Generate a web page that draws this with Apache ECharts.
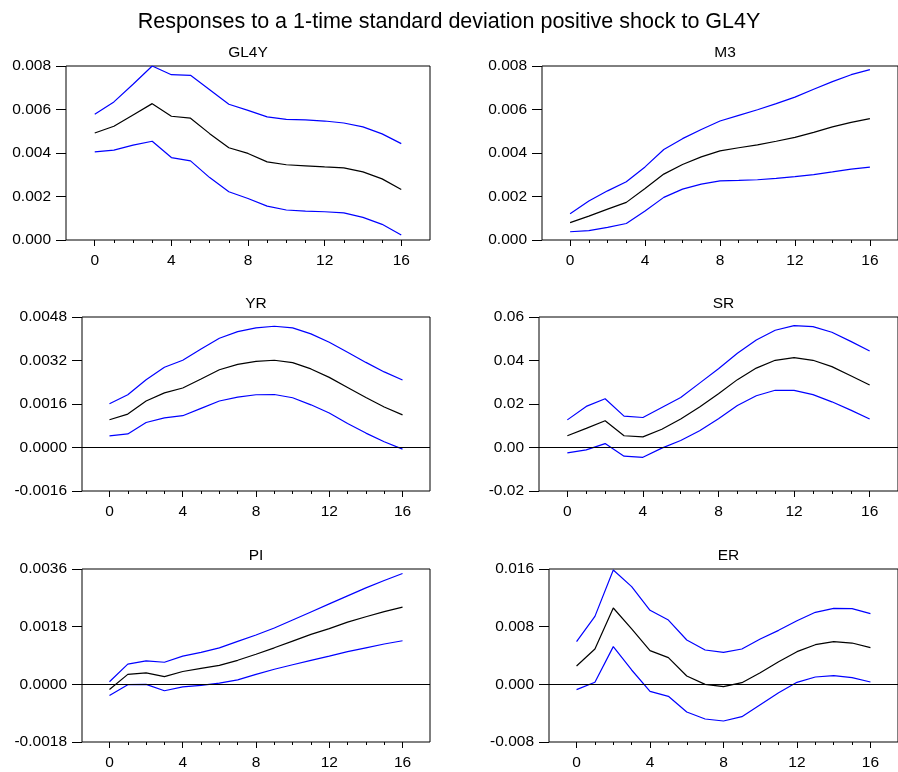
<!DOCTYPE html>
<html>
<head>
<meta charset="utf-8">
<script src="https://cdn.jsdelivr.net/npm/echarts@6/dist/echarts.min.js"></script>
<style>
  html, body { margin: 0; padding: 0; background: #fff; }
  #chart { width: 898px; height: 772px; }
</style>
</head>
<body>
<div id="chart"></div>
<script>
// horizon (periods after the shock)
let steps = [0, 1, 2, 3, 4, 5, 6, 7, 8, 9, 10, 11, 12, 13, 14, 15, 16];
let majorSteps = [0, 4, 8, 12, 16];

// GL4Y
let gl4yMid = [0.00492, 0.00523, 0.00575, 0.00627, 0.00569, 0.00560, 0.00489, 0.00424, 0.00398, 0.00359, 0.00346, 0.00341, 0.00336, 0.00332, 0.00313, 0.00281, 0.00232];
let gl4yUpper = [0.00578, 0.00635, 0.00716, 0.00800, 0.00760, 0.00757, 0.00691, 0.00624, 0.00596, 0.00566, 0.00555, 0.00552, 0.00547, 0.00538, 0.00520, 0.00488, 0.00443];
let gl4yLower = [0.00405, 0.00413, 0.00436, 0.00454, 0.00379, 0.00364, 0.00287, 0.00222, 0.00191, 0.00156, 0.00138, 0.00133, 0.00130, 0.00125, 0.00104, 0.00072, 0.00023];

// M3
let m3Mid = [0.00080, 0.00110, 0.00142, 0.00173, 0.00237, 0.00303, 0.00347, 0.00382, 0.00410, 0.00424, 0.00437, 0.00454, 0.00472, 0.00495, 0.00520, 0.00541, 0.00558];
let m3Upper = [0.00121, 0.00179, 0.00226, 0.00268, 0.00336, 0.00416, 0.00466, 0.00508, 0.00547, 0.00573, 0.00599, 0.00627, 0.00657, 0.00693, 0.00728, 0.00760, 0.00783];
let m3Lower = [0.00038, 0.00043, 0.00058, 0.00076, 0.00133, 0.00196, 0.00234, 0.00257, 0.00272, 0.00274, 0.00277, 0.00283, 0.00291, 0.00301, 0.00313, 0.00326, 0.00335];

// YR
let yrMid = [0.00102, 0.00123, 0.00171, 0.00201, 0.00219, 0.00252, 0.00286, 0.00306, 0.00317, 0.00321, 0.00312, 0.00289, 0.00258, 0.00221, 0.00184, 0.00149, 0.00120];
let yrUpper = [0.00161, 0.00194, 0.00249, 0.00295, 0.00321, 0.00362, 0.00402, 0.00426, 0.00440, 0.00446, 0.00440, 0.00418, 0.00387, 0.00350, 0.00313, 0.00278, 0.00248];
let yrLower = [0.00043, 0.00050, 0.00092, 0.00109, 0.00117, 0.00144, 0.00171, 0.00185, 0.00194, 0.00195, 0.00183, 0.00157, 0.00127, 0.00088, 0.00053, 0.00021, -0.00006];

// SR
let srMid = [0.0054, 0.0088, 0.0123, 0.0054, 0.0049, 0.0084, 0.0131, 0.0186, 0.0247, 0.0312, 0.0365, 0.0401, 0.0413, 0.0401, 0.0372, 0.0330, 0.0287];
let srUpper = [0.0127, 0.0189, 0.0224, 0.0144, 0.0138, 0.0184, 0.0230, 0.0296, 0.0362, 0.0433, 0.0494, 0.0539, 0.0560, 0.0556, 0.0530, 0.0488, 0.0444];
let srLower = [-0.0025, -0.0011, 0.0018, -0.0040, -0.0045, -0.0003, 0.0032, 0.0077, 0.0132, 0.0193, 0.0238, 0.0263, 0.0263, 0.0243, 0.0210, 0.0172, 0.0131];

// PI
let piMid = [-0.00016, 0.00031, 0.00036, 0.00024, 0.00040, 0.00050, 0.00059, 0.00075, 0.00094, 0.00114, 0.00135, 0.00156, 0.00174, 0.00194, 0.00211, 0.00227, 0.00241];
let piUpper = [0.00008, 0.00063, 0.00073, 0.00069, 0.00088, 0.00100, 0.00114, 0.00134, 0.00154, 0.00176, 0.00201, 0.00226, 0.00251, 0.00276, 0.00301, 0.00324, 0.00346];
let piLower = [-0.00035, -0.00001, 0.00000, -0.00020, -0.00008, -0.00003, 0.00004, 0.00014, 0.00031, 0.00047, 0.00061, 0.00075, 0.00088, 0.00102, 0.00114, 0.00126, 0.00136];

// ER
let erMid = [0.00254, 0.00490, 0.01059, 0.00768, 0.00467, 0.00370, 0.00116, 0.00000, -0.00032, 0.00023, 0.00162, 0.00314, 0.00453, 0.00550, 0.00592, 0.00573, 0.00509];
let erUpper = [0.00592, 0.00943, 0.01586, 0.01355, 0.01027, 0.00892, 0.00615, 0.00476, 0.00444, 0.00490, 0.00629, 0.00749, 0.00883, 0.00999, 0.01054, 0.01050, 0.00980];
let erLower = [-0.00074, 0.00028, 0.00523, 0.00199, -0.00097, -0.00166, -0.00384, -0.00481, -0.00509, -0.00449, -0.00282, -0.00116, 0.00028, 0.00102, 0.00120, 0.00092, 0.00032];

let panels = [
    {title: 'GL4Y', mid: gl4yMid, upper: gl4yUpper, lower: gl4yLower, min: 0, max: 0.008, interval: 0.002, digits: 3,
        left: 66, top: 66, right: 468, height: 174},
    {title: 'M3', mid: m3Mid, upper: m3Upper, lower: m3Lower, min: 0, max: 0.008, interval: 0.002, digits: 3,
        left: 542, top: 66, right: -10, height: 174},
    {title: 'YR', mid: yrMid, upper: yrUpper, lower: yrLower, min: -0.0016, max: 0.0048, interval: 0.0016, digits: 4,
        left: 82, top: 317, right: 468, height: 174},
    {title: 'SR', mid: srMid, upper: srUpper, lower: srLower, min: -0.02, max: 0.06, interval: 0.02, digits: 2,
        left: 539, top: 317, right: -10, height: 174},
    {title: 'PI', mid: piMid, upper: piUpper, lower: piLower, min: -0.0018, max: 0.0036, interval: 0.0018, digits: 4,
        left: 82, top: 569, right: 468, height: 173},
    {title: 'ER', mid: erMid, upper: erUpper, lower: erLower, min: -0.008, max: 0.016, interval: 0.008, digits: 3,
        left: 549, top: 569, right: -10, height: 173}
];

let labelFont = 15.5;

function pairs(values) {
    return steps.map(function (s, i) {
        return [s, values[i]];
    });
}

let grids = [];
let xAxes = [];
let yAxes = [];
let series = [];
let graphics = [];

panels.forEach(function (p, i) {
    grids.push({
        left: p.left,
        top: p.top,
        right: p.right,
        height: p.height,
        show: true,
        borderColor: '#000',
        borderWidth: 1,
        backgroundColor: 'transparent'
    });
    // minor ticks at every period
    xAxes.push({
        type: 'value',
        gridIndex: i,
        position: 'bottom',
        min: -1.5,
        max: 17.5,
        axisLine: {show: false, onZero: false},
        axisTick: {show: true, length: 3, customValues: steps, lineStyle: {color: '#000'}},
        axisLabel: {show: false},
        splitLine: {show: false}
    });
    // major ticks and labels
    xAxes.push({
        type: 'value',
        gridIndex: i,
        position: 'bottom',
        min: -1.5,
        max: 17.5,
        axisLine: {show: false, onZero: false},
        axisTick: {show: true, length: 6, customValues: majorSteps, lineStyle: {color: '#000'}},
        axisLabel: {
            show: true,
            customValues: majorSteps,
            margin: 13,
            color: '#000',
            fontSize: labelFont,
            fontFamily: 'Liberation Sans'
        },
        splitLine: {show: false}
    });
    yAxes.push({
        type: 'value',
        gridIndex: i,
        position: 'left',
        min: p.min,
        max: p.max,
        interval: p.interval,
        axisLine: {show: false, onZero: false},
        axisTick: {show: true, length: 10, lineStyle: {color: '#000'}},
        axisLabel: {
            margin: 15,
            color: '#000',
            fontSize: labelFont,
            fontFamily: 'Liberation Sans',
            formatter: function (v) {
                return v.toFixed(p.digits);
            }
        },
        splitLine: {show: false}
    });

    let lineBase = {
        type: 'line',
        xAxisIndex: i * 2 + 1,
        yAxisIndex: i,
        symbol: 'none',
        silent: true,
        animation: false
    };
    series.push(Object.assign({}, lineBase, {
        name: p.title + ' upper',
        data: pairs(p.upper),
        lineStyle: {color: '#0000ff', width: 1.2}
    }));
    series.push(Object.assign({}, lineBase, {
        name: p.title + ' lower',
        data: pairs(p.lower),
        lineStyle: {color: '#0000ff', width: 1.2}
    }));
    let mid = Object.assign({}, lineBase, {
        name: p.title,
        data: pairs(p.mid),
        lineStyle: {color: '#000', width: 1.2},
        z: 3
    });
    if (p.min < 0) {
        mid.markLine = {
            silent: true,
            symbol: 'none',
            label: {show: false},
            lineStyle: {color: '#000', width: 1, type: 'solid'},
            data: [{yAxis: 0}]
        };
    }
    series.push(mid);

    let boxRight = 898 - p.right;
    graphics.push({
        type: 'text',
        x: (p.left + boxRight) / 2,
        y: p.top - 13,
        style: {
            text: p.title,
            fill: '#000',
            font: labelFont + 'px "Liberation Sans"',
            textAlign: 'center',
            textVerticalAlign: 'middle'
        }
    });
});

let chart = echarts.init(document.getElementById('chart'));
chart.setOption({
    animation: false,
    backgroundColor: '#fff',
    title: {
        text: 'Responses to a 1-time standard deviation positive shock to GL4Y',
        left: 'center',
        top: 6,
        textStyle: {
            fontSize: 21.5,
            fontWeight: 'normal',
            color: '#000',
            fontFamily: 'Liberation Sans'
        }
    },
    grid: grids,
    xAxis: xAxes,
    yAxis: yAxes,
    series: series,
    graphic: graphics
});
</script>
</body>
</html>
